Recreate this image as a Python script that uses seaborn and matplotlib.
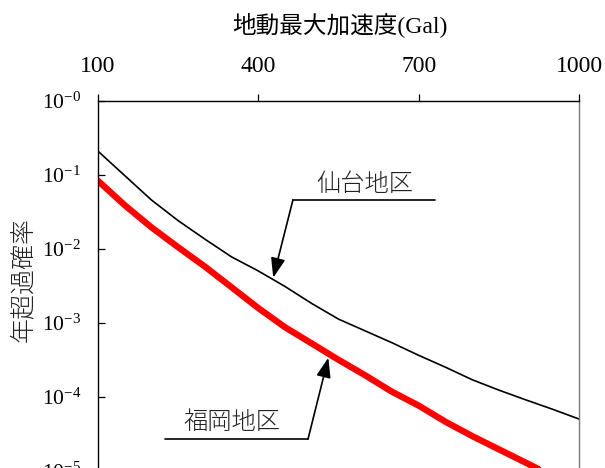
import numpy as np
import pandas as pd
import matplotlib
matplotlib.use("Agg")
import matplotlib.pyplot as plt
import seaborn as sns

# peak ground acceleration (Gal)
pga = [100, 150, 200, 250, 300, 350, 400, 450, 500, 550,
       600, 650, 700, 750, 800, 850, 900, 950, 1000]

# annual exceedance probability
sendai = [0.209, 0.0977, 0.0457, 0.0240, 0.0135, 0.00776, 0.00501, 0.00309,
          0.00182, 0.00112, 0.000776, 0.000537, 0.000363, 0.000251,
          0.000170, 0.000123, 9.1e-5, 6.8e-5, 5.0e-5]
fukuoka = [0.0832, 0.0389, 0.0195, 0.0105, 0.00575, 0.00302, 0.00158,
           0.00087, 0.000525, 0.000316, 0.000195, 0.000117, 7.6e-5,
           4.6e-5, 2.95e-5, 1.95e-5, 1.29e-5, 8.5e-6, 5.6e-6]

x_ticks = [100, 400, 700, 1000]
y_ticks = [1, 1e-1, 1e-2, 1e-3, 1e-4, 1e-5, 1e-6]
y_tick_labels = [r"$\mathregular{10^{-%d}}$" % i for i in range(7)]

xlabel = "地動最大加速度(Gal)"
ylabel = "年超過確率"

sns.set_theme(style="white")
plt.rcParams["font.family"] = ["Liberation Serif", "Noto Sans CJK JP"]
plt.rcParams["mathtext.fontset"] = "custom"
plt.rcParams["mathtext.rm"] = "Liberation Serif"
plt.rcParams["mathtext.it"] = "Liberation Serif:italic"
plt.rcParams["mathtext.bf"] = "Liberation Serif:bold"

sans_cjk = ["Noto Sans CJK JP", "DejaVu Sans"]

df_s = pd.DataFrame({"pga": pga, "p": sendai})
df_f = pd.DataFrame({"pga": pga, "p": fukuoka})

fig = plt.figure(figsize=(6.05, 4.68), dpi=100)
# axes run below the bottom edge of the picture (cropped as in the reference)
ax = fig.add_axes([0.1615, -0.1645, 0.796, 0.9497])

sns.lineplot(data=df_s, x="pga", y="p", color="black", linewidth=1.2, ax=ax)
sns.lineplot(data=df_f, x="pga", y="p", color="#ff0000", linewidth=4.6, ax=ax)

ax.set_yscale("log")
ax.set_xlim(100, 1000)
ax.set_ylim(1e-6, 1)

ax.xaxis.tick_top()
ax.xaxis.set_label_position("top")
ax.set_xticks(x_ticks)
ax.set_xticklabels([str(v) for v in x_ticks])
ax.set_yticks(y_ticks)
ax.set_yticklabels(y_tick_labels)
ax.yaxis.set_minor_locator(matplotlib.ticker.NullLocator())

ax.tick_params(axis="x", which="major", direction="out", length=5, width=0.9,
               pad=12, labelsize=17, colors="black", top=True, bottom=False)
ax.tick_params(axis="y", which="major", direction="in", length=5, width=0.9,
               pad=12, labelsize=15.5, colors="black", left=True, right=False)

for side in ["left", "top"]:
    ax.spines[side].set_color("black")
    ax.spines[side].set_linewidth(1.0)
ax.spines["right"].set_color("#777777")
ax.spines["right"].set_linewidth(1.0)
ax.spines["bottom"].set_visible(False)

ax.set_xlabel(xlabel, fontsize=17, color="black")
ax.xaxis.set_label_coords(0.503, 1.17)
ax.xaxis.label.set_verticalalignment("center")

ax.set_ylabel(ylabel, fontsize=18, color="#222222", family=sans_cjk,
              fontweight="light")
ax.yaxis.set_label_coords(-0.153, 0.598)
ax.yaxis.label.set_verticalalignment("center")

arrow = dict(arrowstyle="-|>,head_length=0.6,head_width=0.22",
             color="black", lw=1.2, mutation_scale=20, shrinkA=0, shrinkB=0)

# 仙台 label
ax.plot([465, 730], [0.0459, 0.0459], color="black", lw=1.2)
ax.text(600, 0.0733, "仙台地区", fontsize=17.5, family=sans_cjk,
        fontweight="light", color="#222222", ha="center", va="center")
ax.annotate("", xy=(428, 4.06e-3), xytext=(465, 0.0459), arrowprops=arrow)

# 福岡 label
ax.plot([226, 493], [2.68e-5, 2.68e-5], color="black", lw=1.2)
ax.text(350, 4.52e-5, "福岡地区", fontsize=17.5, family=sans_cjk,
        fontweight="light", color="#222222", ha="center", va="center")
ax.annotate("", xy=(531, 3.37e-4), xytext=(493, 2.68e-5), arrowprops=arrow)

ax.set_facecolor("white")
fig.patch.set_facecolor("white")

fig.savefig("out.png", dpi=100)
